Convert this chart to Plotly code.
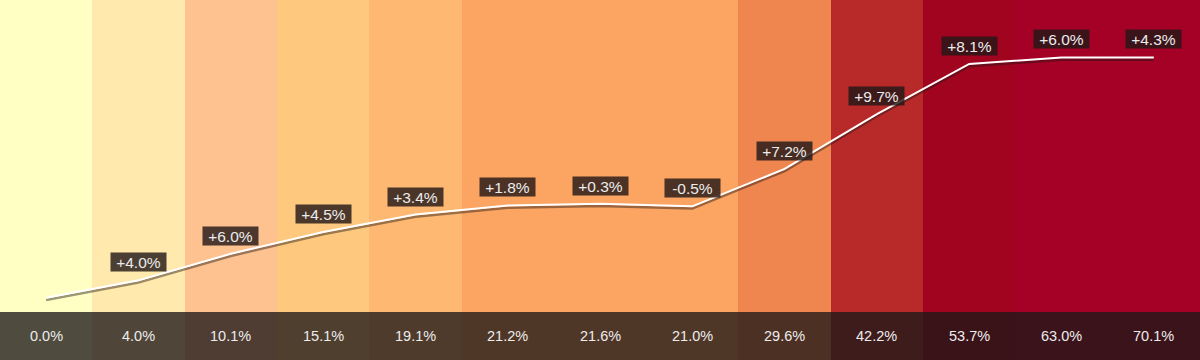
import plotly.graph_objects as go

# ---- data ----
cumulative = [0.0, 4.0, 10.1, 15.1, 19.1, 21.2, 21.6, 21.0, 29.6, 42.2, 53.7, 63.0, 70.1]
cumulative_labels = ["0.0%", "4.0%", "10.1%", "15.1%", "19.1%", "21.2%", "21.6%",
                     "21.0%", "29.6%", "42.2%", "53.7%", "63.0%", "70.1%"]
growth_labels = [None, "+4.0%", "+6.0%", "+4.5%", "+3.4%", "+1.8%", "+0.3%",
                 "-0.5%", "+7.2%", "+9.7%", "+8.1%", "+6.0%", "+4.3%"]
# line height as drawn in the picture (flattens near the top)
line_values = [0.0, 4.0, 10.1, 15.1, 19.1, 21.2, 21.6, 21.0, 29.6, 42.2, 53.7, 55.2, 55.2]
column_colors = ["#ffffc4", "#ffe9ad", "#fec190", "#fec97f", "#feb872", "#fca462",
                 "#fca462", "#fca462", "#ef8650", "#b72a29", "#a0041e", "#a50026", "#a50026"]

positions = list(range(len(cumulative)))

# ---- styling ----
Y_MIN, Y_MAX = -14.3, 68.4
PX_PER_UNIT = 360 / (Y_MAX - Y_MIN)
SHADOW_PX = 2.2
shift = SHADOW_PX / PX_PER_UNIT
FONT = "Liberation Sans, Arial, sans-serif"
TEXT_COLOR = "#ececec"

fig = go.Figure()

# background columns (base axis, drawn first)
fig.add_trace(go.Bar(
    x=positions, y=[1] * len(positions), width=1.0,
    marker=dict(color=column_colors, line=dict(width=0)),
    yaxis="y", hoverinfo="skip", showlegend=False,
))

# line shadow (same data, axis shifted down by a couple of pixels)
fig.add_trace(go.Scatter(
    x=positions, y=line_values, mode="lines", yaxis="y2",
    line=dict(color="rgba(35,25,20,0.45)", width=2.5),
    hoverinfo="skip", showlegend=False,
))
# main line
fig.add_trace(go.Scatter(
    x=positions, y=line_values, mode="lines", yaxis="y3",
    line=dict(color="#ffffff", width=2),
    hoverinfo="skip", showlegend=False,
))

# bottom band
fig.add_shape(type="rect", xref="paper", yref="paper", x0=0, x1=1, y0=0, y1=48 / 360,
              fillcolor="rgba(30,24,24,0.78)", line=dict(width=0), layer="above")

annotations = []
for i, txt in enumerate(cumulative_labels):
    annotations.append(dict(
        x=i, y=24 / 360, xref="x", yref="paper", text=txt, showarrow=False,
        xanchor="center", yanchor="middle",
        font=dict(family=FONT, size=14.5, color=TEXT_COLOR),
    ))
for i, txt in enumerate(growth_labels):
    if txt is None:
        continue
    annotations.append(dict(
        x=i, y=line_values[i], xref="x", yref="y3", text=txt, showarrow=False,
        xanchor="center", yanchor="middle", yshift=18,
        width=54, height=17, align="center", valign="middle",
        bgcolor="rgba(35,25,25,0.82)", borderpad=0.5,
        font=dict(family=FONT, size=15.5, color=TEXT_COLOR),
    ))

fig.update_layout(
    width=1200, height=360,
    margin=dict(l=0, r=0, t=0, b=0),
    paper_bgcolor="#ffffff", plot_bgcolor="rgba(0,0,0,0)",
    bargap=0,
    xaxis=dict(range=[-0.5, len(positions) - 0.5], visible=False, fixedrange=True),
    yaxis=dict(range=[0, 1], visible=False, fixedrange=True),
    yaxis2=dict(range=[Y_MIN + shift, Y_MAX + shift], visible=False, overlaying="y", fixedrange=True),
    yaxis3=dict(range=[Y_MIN, Y_MAX], visible=False, overlaying="y", fixedrange=True),
    annotations=annotations,
    showlegend=False,
)

fig.write_html("out.html", config={"displayModeBar": False})
